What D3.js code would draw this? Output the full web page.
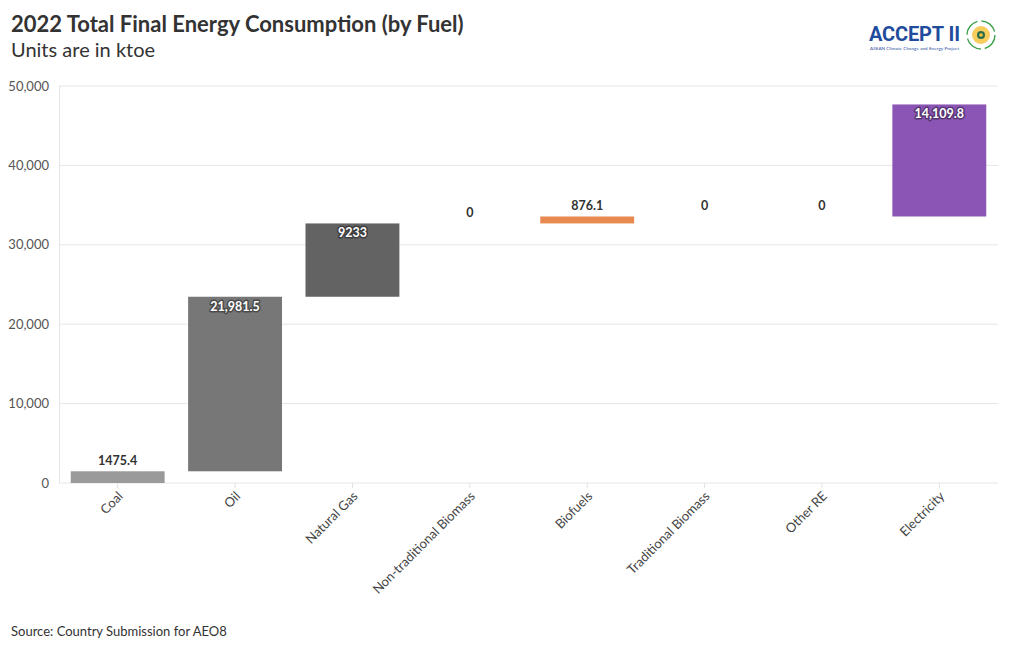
<!DOCTYPE html>
<html><head><meta charset="utf-8">
<script src="https://cdn.jsdelivr.net/npm/d3@7"></script>
<style>
body{margin:0;background:#fff;font-family:"Source Sans Pro","Lato","Noto Sans",sans-serif;}
</style></head>
<body>
<svg id="c" width="1020" height="650"></svg>
<script>
const categories = ["Coal","Oil","Natural Gas","Non-traditional Biomass","Biofuels","Traditional Biomass","Other RE","Electricity"];
const values = [1475.4, 21981.5, 9233, 0, 876.1, 0, 0, 14109.8];
const labels = ["1475.4","21,981.5","9233","0","876.1","0","0","14,109.8"];
const colors = ["#9a9a9a","#777777","#636363","#888888","#e8894f","#888888","#888888","#8a55b5"];
const labelInside = [false,true,true,false,false,false,false,true];
const yTicks = [0,10000,20000,30000,40000,50000];

const svg = d3.select("#c");
const m = {l:59, r:998, t:86, b:483};
const x = d3.scaleBand().domain(categories).range([m.l, m.r]).paddingInner(0.2).paddingOuter(0.1);
const y = d3.scaleLinear().domain([0,50000]).range([m.b, m.t]);

// title
svg.append("text").attr("x",11).attr("y",32).attr("font-size",22).attr("font-weight",700).attr("fill","#333")
  .text("2022 Total Final Energy Consumption (by Fuel)");
svg.append("text").attr("x",11).attr("y",57).attr("font-size",20).attr("fill","#333").text("Units are in ktoe");
svg.append("text").attr("x",11).attr("y",636).attr("font-size",13).attr("fill","#333").text("Source: Country Submission for AEO8");

// logo
const lg = svg.append("g");
lg.append("text").attr("x",869).attr("y",41).attr("font-size",20).attr("font-weight",700).attr("font-family","Roboto, Lato, sans-serif").attr("fill","#1f4c9c").attr("textLength",91).text("ACCEPT II");
lg.append("text").attr("x",870).attr("y",50).attr("font-size",4.5).attr("fill","#1f4c9c").attr("textLength",89).text("ASEAN Climate Change and Energy Project");
lg.append("circle").attr("cx",981).attr("cy",35).attr("r",14).attr("fill","none").attr("stroke","#3fa34d").attr("stroke-width",1.4).attr("stroke-dasharray","18 4");
lg.append("circle").attr("cx",981).attr("cy",35).attr("r",9).attr("fill","#f6c542").attr("opacity",0.85);
lg.append("circle").attr("cx",981).attr("cy",35).attr("r",4).attr("fill","#2c6e49");
lg.append("circle").attr("cx",981).attr("cy",35).attr("r",1.8).attr("fill","#f6c542");

// grid
svg.append("g").selectAll("line").data(yTicks).join("line")
  .attr("x1",m.l).attr("x2",m.r).attr("y1",d=>y(d)).attr("y2",d=>y(d))
  .attr("stroke","#e6e6e6").attr("stroke-width",1);
svg.append("line").attr("x1",m.l+0.5).attr("x2",m.l+0.5).attr("y1",m.t).attr("y2",m.b).attr("stroke","#e6e6e6");

// y axis labels
svg.append("g").selectAll("text").data(yTicks).join("text")
  .attr("x",49).attr("y",d=>y(d)+4.5).attr("text-anchor","end").attr("font-size",13).attr("fill","#555")
  .text(d=>d3.format(",")(d));

// waterfall
let cum = 0;
const bars = values.map((v,i)=>{ const s=cum; cum+=v; return {cat:categories[i], v, s, e:cum, i}; });

svg.append("g").selectAll("rect").data(bars.filter(d=>d.v>0)).join("rect")
  .attr("x",d=>x(d.cat)).attr("width",x.bandwidth())
  .attr("y",d=>y(d.e)).attr("height",d=>y(d.s)-y(d.e))
  .attr("fill",d=>colors[d.i]);

// x ticks
svg.append("g").selectAll("line").data(categories).join("line")
  .attr("x1",d=>x(d)+x.bandwidth()/2).attr("x2",d=>x(d)+x.bandwidth()/2)
  .attr("y1",m.b).attr("y2",m.b+5).attr("stroke","#e0e0e0");
svg.append("g").selectAll("text").data(categories).join("text")
  .attr("transform",d=>`translate(${x(d)+x.bandwidth()/2+6},${m.b+14}) rotate(-45)`)
  .attr("text-anchor","end").attr("font-size",13).attr("fill","#444").text(d=>d);

// value labels
const lab = svg.append("g");
bars.forEach(d=>{
  const cx = x(d.cat)+x.bandwidth()/2;
  if(labelInside[d.i]){
    lab.append("text").attr("x",cx).attr("y",y(d.e)+14).attr("text-anchor","middle")
      .attr("font-size",12.5).attr("font-weight",700).attr("fill","#fff")
      .attr("stroke", d3.color(colors[d.i]).darker(1.3)).attr("stroke-width",3).attr("stroke-linejoin","round")
      .attr("paint-order","stroke").text(labels[d.i]);
  } else {
    lab.append("text").attr("x",cx).attr("y",y(d.e)-6).attr("text-anchor","middle")
      .attr("font-size",12.5).attr("font-weight",700).attr("fill","#333")
      .attr("stroke","#fff").attr("stroke-width",3).attr("paint-order","stroke").text(labels[d.i]);
  }
});
</script>
</body></html>
